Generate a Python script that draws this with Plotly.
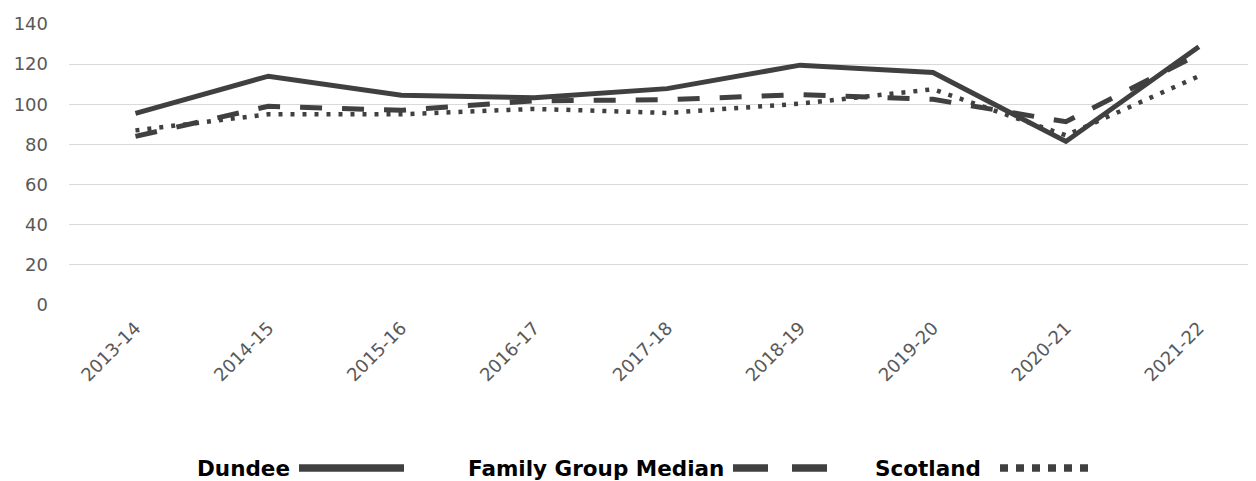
import plotly.graph_objects as go

years = ["2013-14", "2014-15", "2015-16", "2016-17", "2017-18",
         "2018-19", "2019-20", "2020-21", "2021-22"]
dundee = [95.5, 114, 104.5, 103.3, 107.8, 119.5, 115.8, 81.5, 128.7]
family_group_median = [84, 99, 97, 101.7, 102.3, 104.8, 102.5, 91.3, 125]
scotland = [87, 95, 95, 97.7, 95.7, 100.3, 107.5, 84.5, 114]

series_names = ["Dundee", "Family Group Median", "Scotland"]
LINE = "#404040"
OFF = 8  # default page body margin
W, H = 1256 - OFF, 481 - OFF
ML, MR, MT, MB = 69 - OFF, 0, 24 - OFF, 176

fig = go.Figure()
fig.add_trace(go.Scatter(x=years, y=dundee, name=series_names[0], mode="lines",
                         line=dict(color=LINE, width=5)))
fig.add_trace(go.Scatter(x=years, y=family_group_median, name=series_names[1], mode="lines",
                         line=dict(color=LINE, width=5, dash="22px,20px")))
fig.add_trace(go.Scatter(x=years, y=scotland, name=series_names[2], mode="lines",
                         line=dict(color=LINE, width=4.5, dash="4px,8px")))

pw = W - ML - MR
ph = H - MT - MB


def px(x):
    # x in screenshot pixels -> paper coords
    return (x - OFF - ML) / pw


def py(y):
    # y in screenshot pixels -> paper coords
    return (H - MB - (y - OFF)) / ph


ly = 468
legend_items = [
    (series_names[0], 292, 299, 404, "solid"),
    (series_names[1], 726, 733, 827, "35px,24px"),
    (series_names[2], 983, 1000, 1088, "8px,8px"),
]
for name, text_end, l0, l1, dash in legend_items:
    fig.add_annotation(x=px(text_end), y=py(ly), xref="paper", yref="paper",
                       text="<b>" + name + "</b>", showarrow=False,
                       xanchor="right", yanchor="middle",
                       font=dict(family="DejaVu Sans", size=21.5, color="#000000"))
    fig.add_shape(type="line", xref="paper", yref="paper",
                  x0=px(l0), x1=px(l1), y0=py(ly), y1=py(ly),
                  line=dict(color=LINE, width=7.5, dash=dash))

fig.update_layout(
    width=W, height=H,
    margin=dict(l=ML, r=MR, t=MT, b=MB, pad=0),
    paper_bgcolor="white", plot_bgcolor="white",
    showlegend=False,
    font=dict(family="DejaVu Sans", size=18, color="#595959"),
)
fig.update_xaxes(type="category", range=[-0.5, 8.43], showgrid=False,
                 showline=False, zeroline=False, tickangle=-45,
                 ticks="", ticklabelstandoff=8,
                 tickfont=dict(family="DejaVu Sans", size=18, color="#595959"))
fig.update_yaxes(range=[0, 140], tickvals=[0, 20, 40, 60, 80, 100, 120, 140],
                 showgrid=True, gridcolor="#D9D9D9", gridwidth=1.3,
                 zeroline=False, showline=False, ticks="",
                 ticklabelstandoff=20,
                 tickfont=dict(family="DejaVu Sans", size=18, color="#595959"))

fig.write_html("out.html")
